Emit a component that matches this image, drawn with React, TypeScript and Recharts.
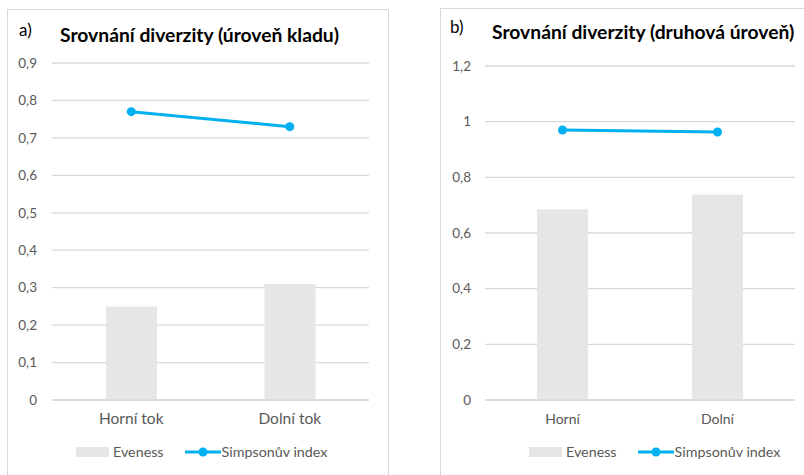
import React from 'react';
import { ComposedChart, Bar, Line, XAxis, YAxis, CartesianGrid, Legend } from 'recharts';

const FONT = 'Lato, "Open Sans", sans-serif';
const BAR = '#e7e6e6';
const LINE = '#00b0f0';
const GRID = '#d9d9d9';
const TXT = '#595959';

const categoriesA = ['Horní tok', 'Dolní tok'];
const evenessA = [0.25, 0.31];
const simpsonA = [0.77, 0.73];
const ticksA = [0, 0.1, 0.2, 0.3, 0.4, 0.5, 0.6, 0.7, 0.8, 0.9];

const categoriesB = ['Horní', 'Dolní'];
const evenessB = [0.685, 0.738];
const simpsonB = [0.97, 0.963];
const ticksB = [0, 0.2, 0.4, 0.6, 0.8, 1, 1.2];

const seriesNames = ['Eveness', 'Simpsonův index'];

const build = (cats: string[], ev: number[], si: number[]) =>
  cats.map((c, i) => ({ cat: c, ev: ev[i], si: si[i] }));

const fmt = (v: number) => String(v).replace('.', ',');

const LegendContent = (props: any) => {
  const payload = props.payload || [];
  const barItem = payload.find((p: any) => p.dataKey === 'ev');
  const lineItem = payload.find((p: any) => p.dataKey === 'si');
  return (
    <div style={{ display: 'flex', alignItems: 'center', fontFamily: FONT, fontSize: 14.3, color: TXT, lineHeight: '16px', whiteSpace: 'nowrap' }}>
      <span style={{ display: 'inline-block', width: 33, height: 10, background: BAR }} />
      <span style={{ marginLeft: 4 }}>{barItem ? barItem.value : seriesNames[0]}</span>
      <svg width={36} height={10} style={{ marginLeft: 21 }}>
        <line x1={0} y1={5} x2={36} y2={5} stroke={LINE} strokeWidth={3} />
        <circle cx={18} cy={5} r={4.5} fill={LINE} />
      </svg>
      <span style={{ marginLeft: 1 }}>{lineItem ? lineItem.value : seriesNames[1]}</span>
    </div>
  );
};

type PanelProps = {
  data: any[];
  ticks: number[];
  left: number;
  width: number;
  margin: { top: number; right: number; bottom: number; left: number };
  legendLeft: number;
  yTickMargin: number;
  catFontSize: number;
  catTickMargin: number;
};

const Panel = ({ data, ticks, left, width, margin, legendLeft, yTickMargin, catFontSize, catTickMargin }: PanelProps) => (
  <div style={{ position: 'absolute', left, top: 0 }}>
    <ComposedChart width={width} height={475} data={data} margin={margin}>
      <CartesianGrid vertical={false} stroke={GRID} strokeWidth={1.3} />
      <XAxis
        dataKey="cat"
        axisLine={{ stroke: GRID, strokeWidth: 1.3 }}
        tickLine={false}
        tickMargin={catTickMargin}
        height={30}
        tick={{ fill: TXT, fontSize: catFontSize, fontFamily: FONT }}
      />
      <YAxis
        domain={[ticks[0], ticks[ticks.length - 1]]}
        ticks={ticks}
        interval={0}
        axisLine={false}
        tickLine={false}
        width={40}
        tickMargin={yTickMargin}
        tickFormatter={fmt}
        tick={{ fill: TXT, fontSize: 13.5, fontFamily: FONT }}
      />
      <Bar dataKey="ev" name={seriesNames[0]} fill={BAR} barSize={51} isAnimationActive={false} />
      <Line
        dataKey="si"
        name={seriesNames[1]}
        stroke={LINE}
        strokeWidth={3}
        dot={{ r: 4.5, fill: LINE, stroke: LINE, strokeWidth: 0 }}
        activeDot={false}
        isAnimationActive={false}
      />
      <Legend
        layout="horizontal"
        verticalAlign="middle"
        align="center"
        content={<LegendContent />}
        wrapperStyle={{ top: 444, left: legendLeft, width: 'auto' }}
      />
    </ComposedChart>
  </div>
);

const titleStyle: React.CSSProperties = {
  position: 'absolute',
  fontFamily: FONT,
  fontWeight: 700,
  fontSize: 19.3,
  color: '#000',
  whiteSpace: 'nowrap',
  lineHeight: '22px',
};

const labelStyle: React.CSSProperties = {
  position: 'absolute',
  fontFamily: FONT,
  fontSize: 17,
  color: '#000',
  whiteSpace: 'nowrap',
  lineHeight: '22px',
};

export default function App() {
  const dataA = build(categoriesA, evenessA, simpsonA);
  const dataB = build(categoriesB, evenessB, simpsonB);
  return (
    <div style={{ position: 'absolute', left: 0, top: 0, width: 804, height: 475, overflow: 'hidden', background: '#fff' }}>
      <div style={{ position: 'absolute', left: 7, top: 9, width: 380, height: 480, borderTop: `1px solid ${GRID}`, borderLeft: `1px solid ${GRID}`, borderRight: `1px solid ${GRID}` }} />
      <div style={{ position: 'absolute', left: 440, top: 8, width: 420, height: 480, borderTop: `1px solid ${GRID}`, borderLeft: `1px solid ${GRID}` }} />
      <Panel
        data={dataA}
        ticks={ticksA}
        left={0}
        width={400}
        margin={{ top: 63, right: 31, bottom: 45, left: 12 }}
        legendLeft={76}
        yTickMargin={9}
        catFontSize={15.5}
        catTickMargin={7}
      />
      <Panel
        data={dataB}
        ticks={ticksB}
        left={400}
        width={404}
        margin={{ top: 66, right: 9, bottom: 45, left: 45 }}
        legendLeft={129}
        yTickMargin={8}
        catFontSize={14}
        catTickMargin={8}
      />
      <div style={{ ...labelStyle, left: 19, top: 19 }}>a)</div>
      <div style={{ ...titleStyle, left: 60, top: 24 }}>Srovnání diverzity (úroveň kladu)</div>
      <div style={{ ...labelStyle, left: 450, top: 16 }}>b)</div>
      <div style={{ ...titleStyle, left: 492, top: 21 }}>Srovnání diverzity (druhová úroveň)</div>
    </div>
  );
}
